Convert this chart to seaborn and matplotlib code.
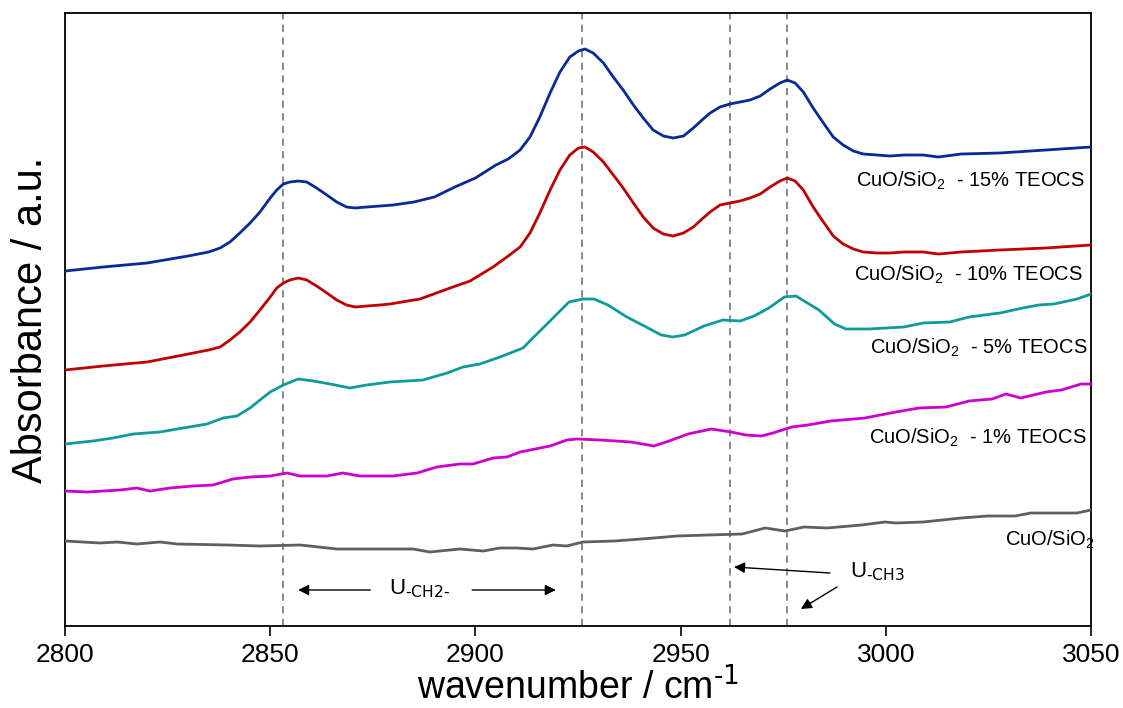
import matplotlib
matplotlib.use("Agg")
import matplotlib.pyplot as plt
import seaborn as sns
import pandas as pd

# ---- data ----
wn_15 = [2800, 2809.3, 2820, 2830, 2835, 2837.8, 2840.2, 2842.6, 2845.1, 2847.5, 2850, 2851.6, 2853.2,
         2854.8, 2856.8, 2858.9, 2861.3, 2863.8, 2866.2, 2868.6, 2870.7, 2873.5, 2876.8, 2880, 2885,
         2890, 2895, 2900, 2905, 2908, 2910.9, 2913.3, 2915.7, 2918.2, 2920.6, 2923.0, 2925.1, 2926.7,
         2928.7, 2931.2, 2933.6, 2936.0, 2938.5, 2940.9, 2943.3, 2945.8, 2948.2, 2950.7, 2953.1, 2955.5,
         2957.2, 2959.6, 2962.0, 2964.5, 2966.9, 2969.4, 2971.8, 2974.2, 2976.0, 2977.9, 2979.9, 2982.3,
         2984.8, 2987.2, 2989.6, 2992.1, 2994.5, 2997.8, 3001.0, 3004.5, 3009.1, 3012.8, 3018.4, 3027.8,
         3039, 3050]
ab_15 = [3.55, 3.59, 3.63, 3.70, 3.74, 3.78, 3.84, 3.93, 4.03, 4.14, 4.28, 4.36, 4.42,
         4.44, 4.45, 4.44, 4.38, 4.31, 4.24, 4.19, 4.18, 4.19, 4.20, 4.21, 4.24,
         4.29, 4.39, 4.48, 4.61, 4.67, 4.76, 4.89, 5.09, 5.33, 5.54, 5.69, 5.75, 5.77,
         5.73, 5.63, 5.49, 5.36, 5.21, 5.08, 4.96, 4.90, 4.88, 4.90, 4.98, 5.07,
         5.13, 5.19, 5.22, 5.24, 5.26, 5.30, 5.37, 5.43, 5.46, 5.43, 5.34, 5.18,
         5.03, 4.89, 4.81, 4.75, 4.72, 4.71, 4.70, 4.71, 4.71, 4.69, 4.72, 4.73,
         4.76, 4.79]

wn_10 = [2800, 2809.3, 2820, 2828.8, 2835, 2837.8, 2840.2, 2842.6, 2845.1, 2847.5, 2850, 2851.6, 2853.2,
         2854.8, 2856.8, 2858.9, 2861.3, 2863.8, 2866.2, 2868.6, 2870.7, 2873.5, 2876.8, 2879.2, 2886.5,
         2894.5, 2898.7, 2904.3, 2908, 2910.9, 2913.3, 2915.7, 2918.2, 2920.6, 2923.0, 2925.1, 2926.7,
         2928.7, 2931.2, 2933.6, 2936.0, 2938.5, 2940.9, 2943.3, 2945.8, 2948.2, 2950.7, 2953.1, 2955.5,
         2957.2, 2959.6, 2962.0, 2964.5, 2966.9, 2969.4, 2971.8, 2974.2, 2976.0, 2977.9, 2979.9, 2982.3,
         2984.8, 2987.2, 2989.6, 2992.1, 2994.5, 2997.8, 3001.0, 3004.5, 3009.1, 3012.8, 3018.4, 3027.8,
         3039, 3050]
ab_10 = [2.56, 2.60, 2.64, 2.71, 2.76, 2.79, 2.86, 2.94, 3.04, 3.16, 3.29, 3.38, 3.43,
         3.46, 3.48, 3.46, 3.40, 3.33, 3.26, 3.21, 3.19, 3.20, 3.21, 3.22, 3.27,
         3.39, 3.45, 3.59, 3.70, 3.79, 3.93, 4.13, 4.36, 4.56, 4.71, 4.78, 4.79,
         4.74, 4.64, 4.51, 4.38, 4.23, 4.09, 3.98, 3.92, 3.90, 3.93, 3.99, 4.08,
         4.14, 4.21, 4.23, 4.25, 4.28, 4.32, 4.39, 4.45, 4.48, 4.45, 4.36, 4.19,
         4.04, 3.90, 3.82, 3.77, 3.74, 3.73, 3.73, 3.74, 3.74, 3.72, 3.74, 3.76,
         3.78, 3.81]

wn_5 = [2800, 2806.8, 2811.7, 2816.6, 2823.1, 2828.8, 2834.6, 2838.5, 2841.9, 2845.1, 2847.5, 2850,
        2853.2, 2856.8, 2860.5, 2864.6, 2869.4, 2873.5, 2879.2, 2883.3, 2887.2, 2893.1, 2897, 2901.1,
        2906, 2911.6, 2914, 2917.2, 2922.8, 2926.2, 2928.9, 2932.3, 2936.9, 2941.6, 2945.3, 2948.1,
        2951, 2955.7, 2960.3, 2964.5, 2967.9, 2971.5, 2975.3, 2978.1, 2983.7, 2987.5, 2990.3, 2995.9,
        3004.4, 3009.1, 3015.6, 3020.3, 3027.8, 3033.4, 3037.2, 3041, 3046.6, 3050]
ab_5 = [1.82, 1.85, 1.88, 1.92, 1.94, 1.98, 2.02, 2.08, 2.10, 2.18, 2.26, 2.34,
        2.41, 2.47, 2.45, 2.42, 2.38, 2.41, 2.44, 2.45, 2.46, 2.53, 2.59, 2.62,
        2.69, 2.78, 2.88, 3.01, 3.24, 3.27, 3.27, 3.21, 3.09, 2.99, 2.91, 2.89,
        2.91, 3.00, 3.06, 3.05, 3.10, 3.18, 3.29, 3.30, 3.16, 3.02, 2.97, 2.97,
        2.99, 3.03, 3.04, 3.09, 3.13, 3.18, 3.21, 3.22, 3.27, 3.32]

wn_1 = [2800, 2805.4, 2813.4, 2817.5, 2820.7, 2825.6, 2831.2, 2836.1, 2840.9, 2845.1, 2850, 2854.1,
        2857.3, 2863.8, 2867.7, 2871.9, 2879.9, 2885.8, 2890.6, 2896.2, 2899.4, 2904.3, 2907.7, 2910.9,
        2918.2, 2922.3, 2924.8, 2930.4, 2937.9, 2943.5, 2947.2, 2951.8, 2957.5, 2962.3, 2965.9, 2969.7,
        2972.5, 2977.1, 2981, 2986.6, 2994.9, 3002.5, 3008.1, 3014.7, 3020.3, 3025.9, 3029.3, 3032.9,
        3039, 3042.8, 3047.6, 3050]
ab_1 = [1.35, 1.34, 1.36, 1.38, 1.35, 1.38, 1.40, 1.41, 1.47, 1.49, 1.50, 1.53,
        1.50, 1.50, 1.53, 1.50, 1.50, 1.53, 1.59, 1.62, 1.62, 1.68, 1.69, 1.74,
        1.80, 1.86, 1.87, 1.86, 1.84, 1.80, 1.85, 1.92, 1.97, 1.94, 1.91, 1.90,
        1.93, 1.99, 2.01, 2.05, 2.08, 2.14, 2.18, 2.19, 2.25, 2.27, 2.32, 2.28,
        2.34, 2.36, 2.42, 2.42]

wn_0 = [2800, 2808.5, 2812.7, 2817.5, 2823.1, 2827.3, 2839.5, 2847.5, 2857.3, 2866.3, 2876, 2884.8,
        2888.9, 2896.2, 2901.9, 2906, 2910.1, 2914, 2918.9, 2922.3, 2926.2, 2934, 2943.5, 2949.1,
        2956.7, 2965, 2970.6, 2975.4, 2980.1, 2985.7, 2994.1, 2999.8, 3002.5, 3009.1, 3018.4, 3024.9,
        3031.5, 3035.4, 3042, 3046.6, 3050]
ab_0 = [0.85, 0.83, 0.84, 0.82, 0.84, 0.82, 0.81, 0.80, 0.81, 0.77, 0.77, 0.77,
        0.74, 0.77, 0.75, 0.78, 0.78, 0.77, 0.81, 0.80, 0.84, 0.85, 0.88, 0.90,
        0.91, 0.92, 0.98, 0.95, 0.99, 0.98, 1.01, 1.04, 1.03, 1.04, 1.08, 1.10,
        1.10, 1.13, 1.13, 1.13, 1.16]

series_names = ["CuO/SiO$_2$  - 15% TEOCS", "CuO/SiO$_2$  - 10% TEOCS", "CuO/SiO$_2$  - 5% TEOCS",
                "CuO/SiO$_2$  - 1% TEOCS", "CuO/SiO$_2$"]
series_colors = ["#0A2896", "#C00000", "#109A9A", "#CC00CC", "#5F5F5F"]
label_y = [4.45, 3.51, 2.78, 1.88, 0.86]
label_x = [3048.5, 3048.0, 3049.3, 3049.0, 3051.0]

peak_lines = [2853, 2926, 2962, 2976]
x_ticks = [2800, 2850, 2900, 2950, 3000, 3050]

# ---- plotting ----
sns.set_style("white")
plt.rcParams["font.family"] = ["Liberation Sans", "DejaVu Sans"]
plt.rcParams["mathtext.default"] = "regular"
plt.rcParams["text.color"] = "black"
plt.rcParams["axes.labelcolor"] = "black"
plt.rcParams["xtick.color"] = "black"

fig = plt.figure(figsize=(11.23, 7.08), dpi=100)
ax = fig.add_axes([65 / 1123, 1 - 626 / 708, (1091 - 65) / 1123, (626 - 13) / 708])

for xv in peak_lines:
    ax.axvline(xv, color="#808080", lw=1.3, ls=(0, (4, 3)), zorder=1)

all_wn = [wn_15, wn_10, wn_5, wn_1, wn_0]
all_ab = [ab_15, ab_10, ab_5, ab_1, ab_0]
for wn, ab, name, col in zip(all_wn, all_ab, series_names, series_colors):
    df = pd.DataFrame({"wavenumber": wn, "absorbance": ab})
    sns.lineplot(data=df, x="wavenumber", y="absorbance", color=col, lw=2.0, ax=ax,
                 sort=False, zorder=3)

for name, lx, ly in zip(series_names, label_x, label_y):
    ax.text(lx, ly, name, ha="right", va="center", fontsize=14.5, color="black")

# annotations
arrow = dict(arrowstyle="-|>", color="black", lw=1.0, mutation_scale=16, shrinkA=0, shrinkB=0)
ax.annotate("", xy=(2856.8, 0.36), xytext=(2874.4, 0.36), arrowprops=arrow)
ax.annotate("", xy=(2919.6, 0.36), xytext=(2899.2, 0.36), arrowprops=arrow)
ax.text(2886.5, 0.37, r"U$_{\text{-CH2-}}$", ha="center", va="center", fontsize=16)
ax.annotate("", xy=(2963.0, 0.59), xytext=(2986.4, 0.53), arrowprops=arrow)
ax.annotate("", xy=(2979.3, 0.17), xytext=(2988.1, 0.39), arrowprops=arrow)
ax.text(2998.0, 0.54, r"U$_{\text{-CH3}}$", ha="center", va="center", fontsize=16)

ax.set_xlim(2800, 3050)
ax.set_ylim(0, 6.13)
ax.set_xticks(x_ticks)
ax.set_yticks([])
ax.tick_params(axis="x", direction="out", length=7, width=1.2, labelsize=19, pad=5, bottom=True)
for sp in ax.spines.values():
    sp.set_visible(True)
    sp.set_color("black")
    sp.set_linewidth(1.3)

ax.set_xlabel(r"wavenumber / cm$^{\text{-1}}$", fontsize=27, labelpad=0)
ax.set_ylabel("Absorbance / a.u.", fontsize=30, labelpad=10)

fig.savefig("out.png", dpi=100)
